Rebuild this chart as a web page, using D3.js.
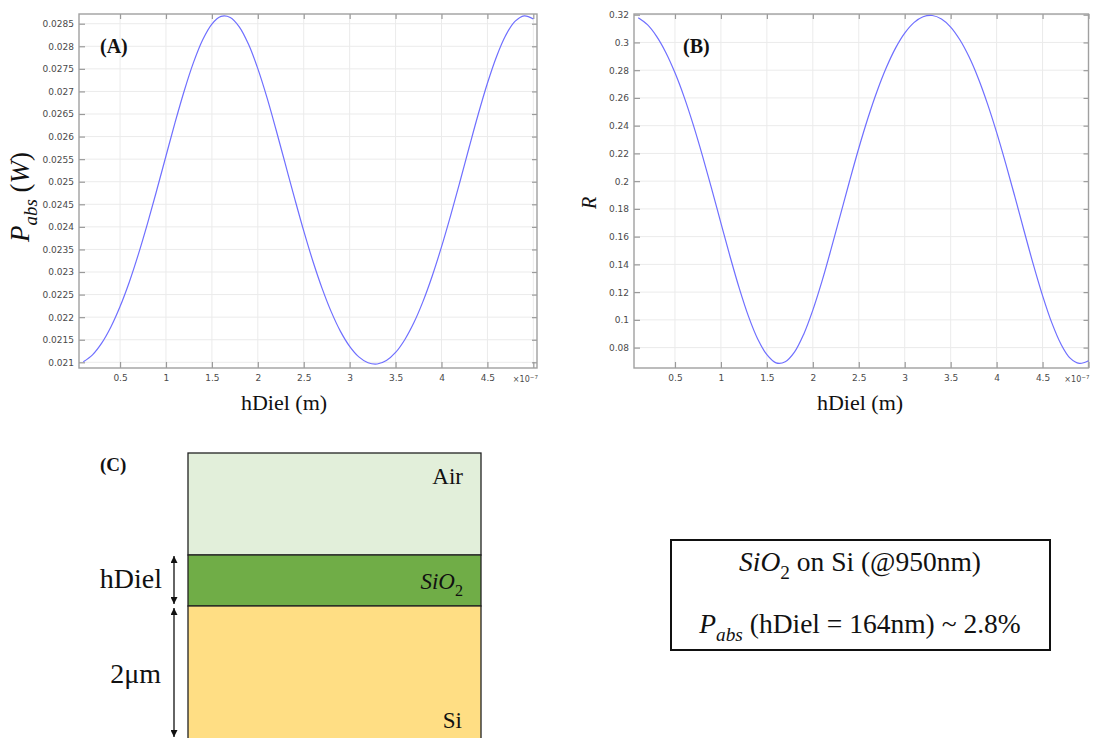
<!DOCTYPE html>
<meta charset="utf-8">

<!-- Load d3.js -->
<script src="https://d3js.org/d3.v7.min.js"></script>
<style>
  body { margin: 0; background: #fff; }
</style>

<!-- Create a div where the graph will take place -->
<div id="my_dataviz"></div>

<script>

// thickness of the dielectric, in nm
var hDiel = [10, 20, 30, 40, 50, 60, 70, 80, 90, 100,
             110, 120, 130, 140, 150, 160, 170, 180, 190, 200,
             210, 220, 230, 240, 250, 260, 270, 280, 290, 300,
             310, 320, 330, 340, 350, 360, 370, 380, 390, 400,
             410, 420, 430, 440, 450, 460, 470, 480, 490, 500];

// (A) absorbed power, W
var pAbs = [0.021012, 0.021166, 0.021424, 0.021782, 0.022235, 0.022774, 0.023396, 0.024083, 0.024816, 0.025570,
            0.026319, 0.027021, 0.027643, 0.028145, 0.028493, 0.028662, 0.028638, 0.028425, 0.028037, 0.027504,
            0.026861, 0.026140, 0.025388, 0.024637, 0.023910, 0.023239, 0.022638, 0.022117, 0.021686, 0.021354,
            0.021120, 0.020990, 0.020962, 0.021039, 0.021218, 0.021501, 0.021880, 0.022355, 0.022918, 0.023556,
            0.024255, 0.024994, 0.025752, 0.026494, 0.027181, 0.027775, 0.028244, 0.028552, 0.028675, 0.028604];

// (B) reflectance
var refl = [0.3178, 0.3128, 0.3044, 0.2928, 0.2781, 0.2606, 0.2404, 0.2181, 0.1943, 0.1698,
            0.1455, 0.1227, 0.1025, 0.0862, 0.0749, 0.0690, 0.0698, 0.0767, 0.0895, 0.1070,
            0.1279, 0.1513, 0.1757, 0.2001, 0.2237, 0.2455, 0.2650, 0.2819, 0.2959, 0.3067,
            0.3143, 0.3185, 0.3194, 0.3169, 0.3111, 0.3019, 0.2896, 0.2742, 0.2559, 0.2352,
            0.2125, 0.1885, 0.1639, 0.1398, 0.1175, 0.0980, 0.0826, 0.0724, 0.0686, 0.0705];

// tick values (x in units of 1e-7 m)
var xTicks = [0.5, 1, 1.5, 2, 2.5, 3, 3.5, 4, 4.5, 5];
var xTickLabels = ["0.5", "1", "1.5", "2", "2.5", "3", "3.5", "4", "4.5", ""];
var yTicksA = [0.021, 0.0215, 0.022, 0.0225, 0.023, 0.0235, 0.024, 0.0245, 0.025,
               0.0255, 0.026, 0.0265, 0.027, 0.0275, 0.028, 0.0285];
var yTicksB = [0.08, 0.1, 0.12, 0.14, 0.16, 0.18, 0.2, 0.22, 0.24, 0.26, 0.28, 0.3, 0.32];

var svg = d3.select("#my_dataviz")
  .append("svg")
    .attr("width", 1094)
    .attr("height", 738)
    .style("display", "block");

var serif = "'Liberation Serif', 'Times New Roman', serif";

// text with italic / subscript / superscript pieces
function richText(g, x, y, size, parts, anchor) {
  var t = g.append("text")
    .attr("x", x)
    .attr("y", y)
    .attr("font-family", serif)
    .attr("font-size", size)
    .attr("text-anchor", anchor || "start")
    .attr("fill", "#111");
  var shift = 0;
  parts.forEach(function(p) {
    var s = t.append("tspan").text(p.t);
    var want = p.sub ? size * 0.3 : (p.sup ? -size * 0.4 : 0);
    if (want !== shift) { s.attr("dy", want - shift); shift = want; }
    if (p.sub || p.sup) s.attr("font-size", size * 0.7);
    if (p.i) s.attr("font-style", "italic");
    if (p.b) s.attr("font-weight", "bold");
  });
  return t;
}

function drawPlot(o) {
  var x = d3.scaleLinear().domain(o.xDomain).range([o.left, o.right]);
  var y = d3.scaleLinear().domain(o.yDomain).range([o.bottom, o.top]);
  var g = svg.append("g");

  // grid
  g.selectAll("vgrid").data(xTicks).enter().append("line")
    .attr("x1", function(d) { return x(d); })
    .attr("x2", function(d) { return x(d); })
    .attr("y1", o.top).attr("y2", o.bottom)
    .attr("stroke", "#ebebeb");
  g.selectAll("hgrid").data(o.yTicks).enter().append("line")
    .attr("x1", o.left).attr("x2", o.right)
    .attr("y1", function(d) { return y(d); })
    .attr("y2", function(d) { return y(d); })
    .attr("stroke", "#ebebeb");

  // axes, ticks pointing inward
  var bottom = g.append("g")
    .attr("transform", "translate(0," + o.bottom + ")")
    .call(d3.axisBottom(x).tickValues(xTicks).tickSize(-6).tickPadding(7)
      .tickFormat(function(d, i) { return xTickLabels[i]; }));
  var left = g.append("g")
    .attr("transform", "translate(" + o.left + ",0)")
    .call(d3.axisLeft(y).tickValues(o.yTicks).tickSize(-6).tickPadding(5)
      .tickFormat(function(d) { return String(+d.toFixed(4)); }));
  var top = g.append("g")
    .attr("transform", "translate(0," + o.top + ")")
    .call(d3.axisTop(x).tickValues(xTicks).tickSize(-5).tickFormat(""));
  var right = g.append("g")
    .attr("transform", "translate(" + o.right + ",0)")
    .call(d3.axisRight(y).tickValues(o.yTicks).tickSize(-5).tickFormat(""));

  [bottom, left, top, right].forEach(function(a) {
    a.select(".domain").remove();
    a.selectAll("line").attr("stroke", "#9a9a9a").attr("stroke-width", 1.2);
    a.selectAll("text")
      .attr("font-family", "'DejaVu Sans', sans-serif")
      .attr("font-size", 9)
      .attr("fill", "#4a4a4a");
  });

  // frame
  g.append("rect")
    .attr("x", o.left).attr("y", o.top)
    .attr("width", o.right - o.left).attr("height", o.bottom - o.top)
    .attr("fill", "none")
    .attr("stroke", "#a0a0a0")
    .attr("stroke-width", 1.4);

  // multiplier
  richText(g, o.right + 1, o.bottom + 14, 8, [{t: "×10"}, {t: "−7", sup: true}], "end")
    .attr("font-family", "'DejaVu Sans', sans-serif")
    .attr("fill", "#4a4a4a");

  // curve
  g.append("path")
    .datum(hDiel)
    .attr("fill", "none")
    .attr("stroke", "#6f6fff")
    .attr("stroke-width", 1.2)
    .attr("d", d3.line()
      .curve(d3.curveCatmullRom)
      .x(function(d) { return x(d / 100); })
      .y(function(d, i) { return y(o.values[i]); }));

  // titles
  richText(g, o.titleX, 410, 22, [{t: "hDiel (m)"}], "middle");
  richText(g, 0, 0, o.yLabelSize, o.yLabel, "middle")
    .attr("transform", "translate(" + o.yLabelX + "," + o.yLabelY + ") rotate(-90)");
  richText(g, o.tagX, 53, 20, [{t: o.tag, b: true}]);
}

drawPlot({
  left: 79, right: 537, top: 14, bottom: 368,
  xDomain: [0.053, 5.04], yDomain: [0.020874, 0.028715],
  yTicks: yTicksA, values: pAbs, tag: "(A)", tagX: 100, titleX: 284,
  yLabel: [{t: "P", i: true}, {t: "abs", i: true, sub: true}, {t: " ("}, {t: "W", i: true}, {t: ")"}],
  yLabelX: 29, yLabelY: 197, yLabelSize: 27
});

drawPlot({
  left: 634, right: 1088.5, top: 14, bottom: 368,
  xDomain: [0.054, 5.0], yDomain: [0.0653, 0.3205],
  yTicks: yTicksB, values: refl, tag: "(B)", tagX: 683, titleX: 860,
  yLabel: [{t: "R", i: true}],
  yLabelX: 596, yLabelY: 203, yLabelSize: 20
});

// (C) layer stack sketch
var c = svg.append("g");
var layerNames = ["Air", "SiO2", "Si"];
var layerColors = ["#e2efda", "#70ad47", "#ffde84"];
var layerY = [453, 555, 606, 742];

c.selectAll("layer").data(layerNames).enter().append("rect")
  .attr("x", 188)
  .attr("y", function(d, i) { return layerY[i]; })
  .attr("width", 293)
  .attr("height", function(d, i) { return layerY[i + 1] - layerY[i]; })
  .attr("fill", function(d, i) { return layerColors[i]; })
  .attr("stroke", "#222")
  .attr("stroke-width", 1.3);

richText(c, 463, 484, 23, [{t: "Air"}], "end");
richText(c, 463, 589, 23, [{t: "SiO", i: true}, {t: "2", sub: true}], "end");
richText(c, 462, 728, 23, [{t: "Si"}], "end");
richText(c, 100, 471, 19, [{t: "(C)", b: true}]);

svg.append("defs").append("marker")
    .attr("id", "head")
    .attr("viewBox", "0 0 10 10")
    .attr("refX", 10).attr("refY", 5)
    .attr("markerWidth", 8).attr("markerHeight", 7)
    .attr("markerUnits", "userSpaceOnUse")
    .attr("orient", "auto-start-reverse")
  .append("path")
    .attr("d", "M0,0L10,5L0,10z")
    .attr("fill", "#111");

c.append("line")
  .attr("x1", 174).attr("x2", 174).attr("y1", 556).attr("y2", 604)
  .attr("stroke", "#111").attr("stroke-width", 1.3)
  .attr("marker-start", "url(#head)").attr("marker-end", "url(#head)");
c.append("line")
  .attr("x1", 174).attr("x2", 174).attr("y1", 608).attr("y2", 737)
  .attr("stroke", "#111").attr("stroke-width", 1.3)
  .attr("marker-start", "url(#head)").attr("marker-end", "url(#head)");

richText(c, 162, 588, 28, [{t: "hDiel"}], "end");
richText(c, 161, 683, 28, [{t: "2μm"}], "end");

// summary box
c.append("rect")
  .attr("x", 671).attr("y", 540)
  .attr("width", 379).attr("height", 110)
  .attr("fill", "none")
  .attr("stroke", "#111")
  .attr("stroke-width", 2);
richText(c, 860, 571, 27.5, [{t: "SiO", i: true}, {t: "2", sub: true}, {t: " on Si (@950nm)"}], "middle");
richText(c, 860, 633, 27.5, [{t: "P", i: true}, {t: "abs", i: true, sub: true}, {t: " (hDiel = 164nm) ~ 2.8%"}], "middle");

</script>
